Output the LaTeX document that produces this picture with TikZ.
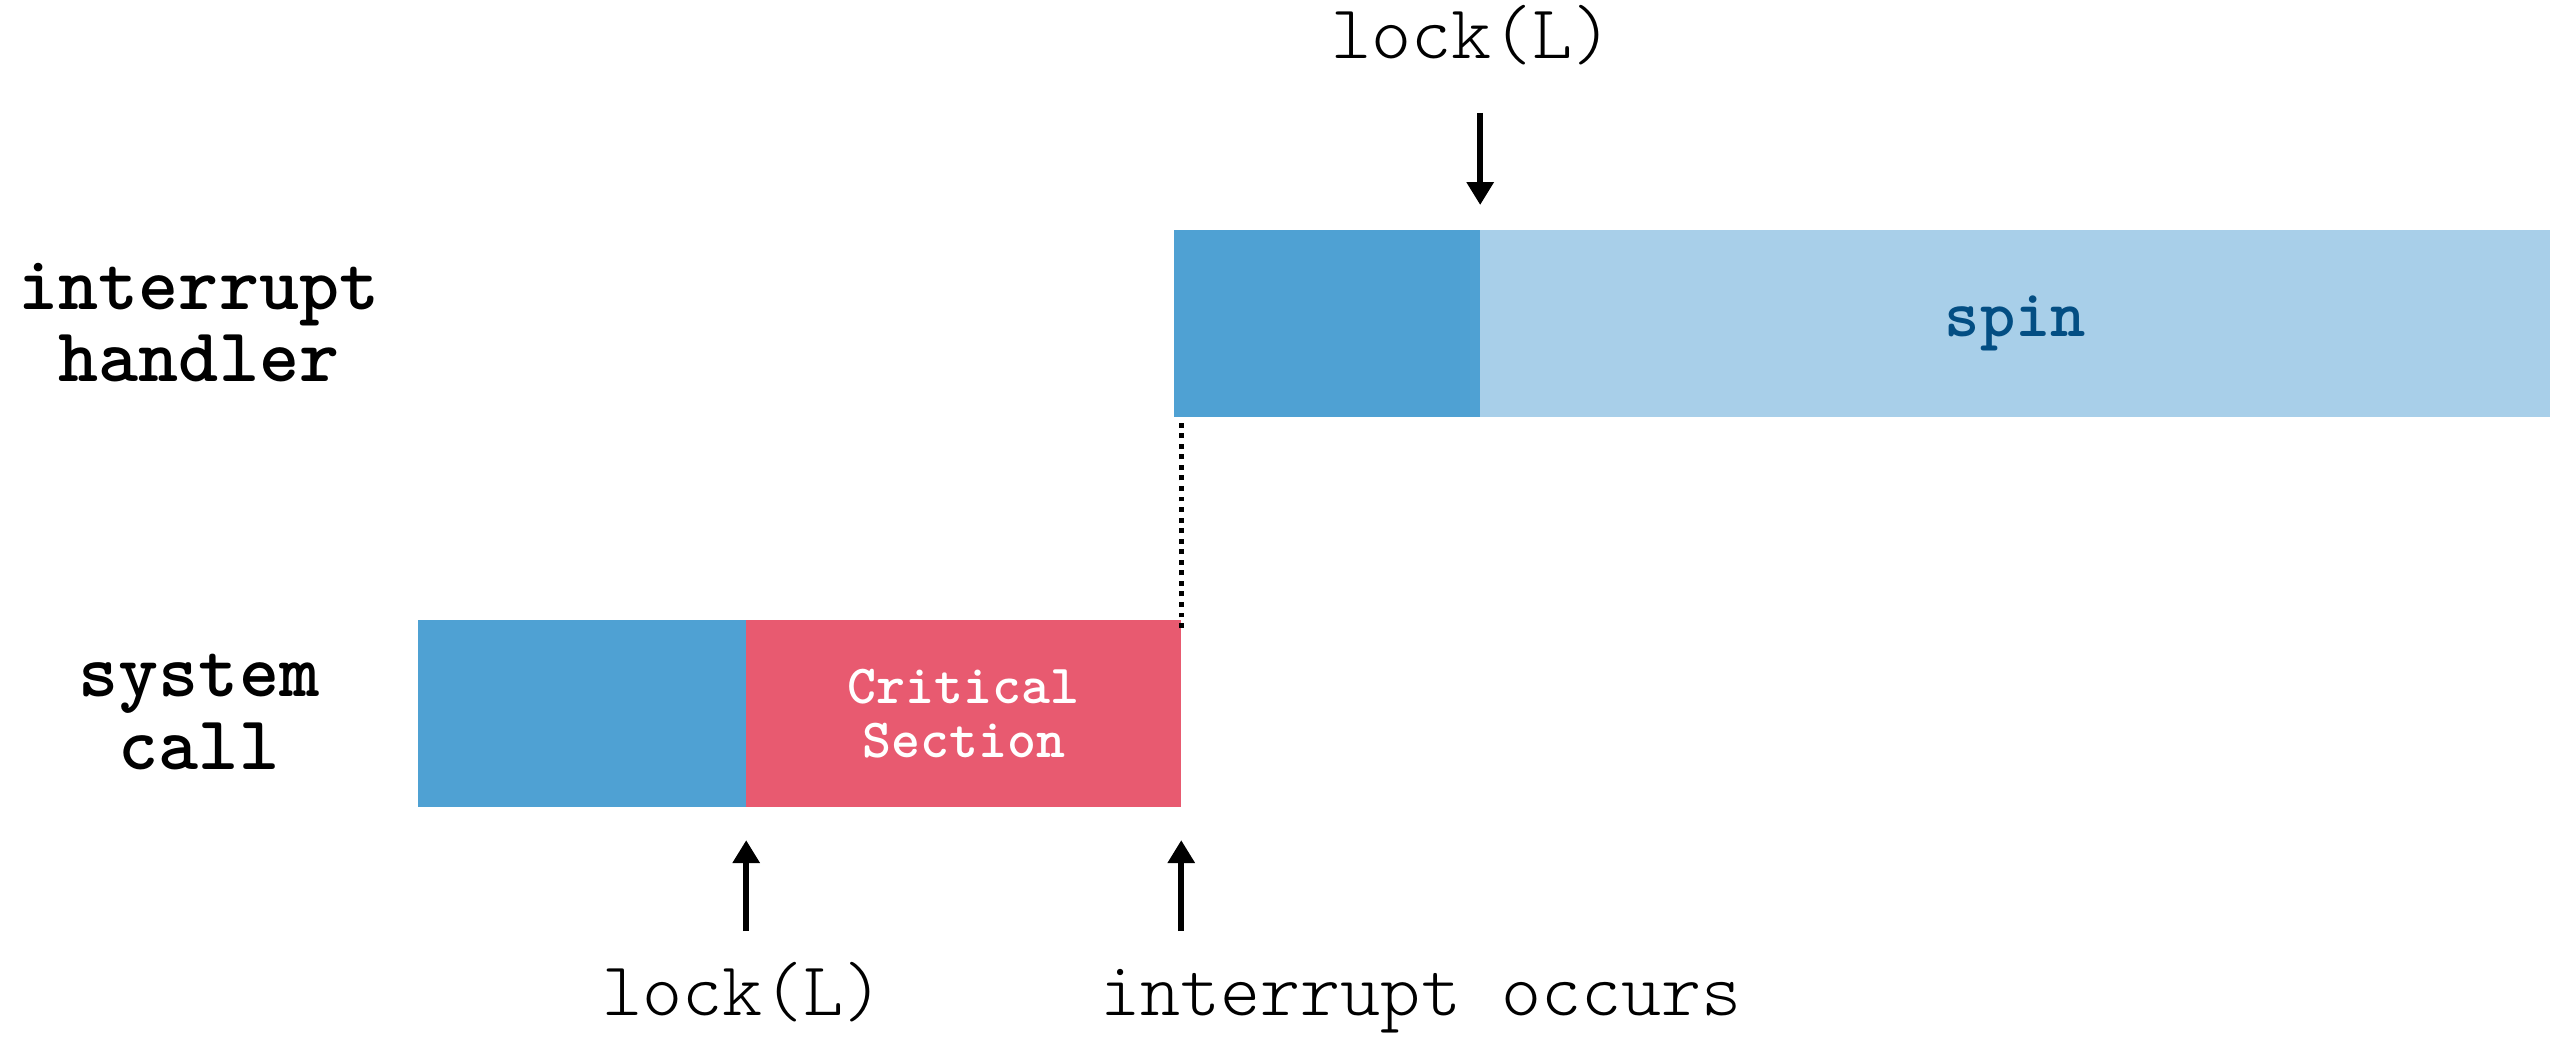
\documentclass[tikz,border=0pt]{standalone}
\usetikzlibrary{arrows.meta}
\definecolor{runblue}{HTML}{4FA1D3}
\definecolor{spinblue}{HTML}{A8CFE9}
\definecolor{critred}{HTML}{E85A70}
\definecolor{spintext}{HTML}{034E83}

\begin{document}
\begin{tikzpicture}[x=0.01cm,y=-0.01cm,
  seg/.style={draw=none, inner sep=0, outer sep=0, minimum height=1.87cm, anchor=north west},
  rowlabel/.style={font=\ttfamily\bfseries\fontsize{21.7}{20.5}\selectfont, align=center, inner sep=0},
  marklabel/.style={font=\ttfamily\fontseries{l}\fontsize{21.7}{22}\selectfont, inner sep=0, anchor=base},
  arr/.style={line width=1.7pt, -{Triangle[width=7.4pt,length=6.5pt]}},
  dots/.style={line width=1.4pt, dash pattern=on 1.4pt off 1.6pt},
]
\useasboundingbox (0,0) rectangle (2550,1038);

% interrupt handler timeline
\node[seg, fill=runblue, minimum width=3.06cm] (hRun) at (1174,230) {};
\node[seg, fill=spinblue, minimum width=10.70cm, text=spintext,
      font=\ttfamily\bfseries\fontsize{19.1}{19}\selectfont] (hSpin) at (1480,230) {spin};

% system call timeline
\node[seg, fill=runblue, minimum width=3.28cm] (sRun) at (418,620) {};
\node[seg, fill=critred, minimum width=4.35cm, text=white, align=center,
      font=\ttfamily\bfseries\fontsize{15.7}{15.6}\selectfont] (sCrit) at (746,620) {Critical\\Section};

% row labels
\node[rowlabel] (lblHandler) at (199,323) {interrupt\\handler};
\node[rowlabel] (lblSys) at (199,712) {system\\call};

% jump from the system call into the handler
\draw[dots] ([yshift=-0.08cm]sCrit.north east) -- ([yshift=-0.05cm]hRun.south -| sCrit.north east);

% event markers
\node[marklabel] (lockTop) at (1472,58) {lock(L)};
\node[marklabel] (lockSys) at (743,1015) {lock(L)};
\node[marklabel] (intOcc) at (1421,1015) {interrupt occurs};

\draw[arr] ([yshift=1.17cm]hRun.north east) -- ([yshift=0.25cm]hRun.north east);
\draw[arr] ([yshift=-1.24cm]sRun.south east) -- ([yshift=-0.33cm]sRun.south east);
\draw[arr] ([yshift=-1.24cm]sCrit.south east) -- ([yshift=-0.33cm]sCrit.south east);
\end{tikzpicture}
\end{document}
